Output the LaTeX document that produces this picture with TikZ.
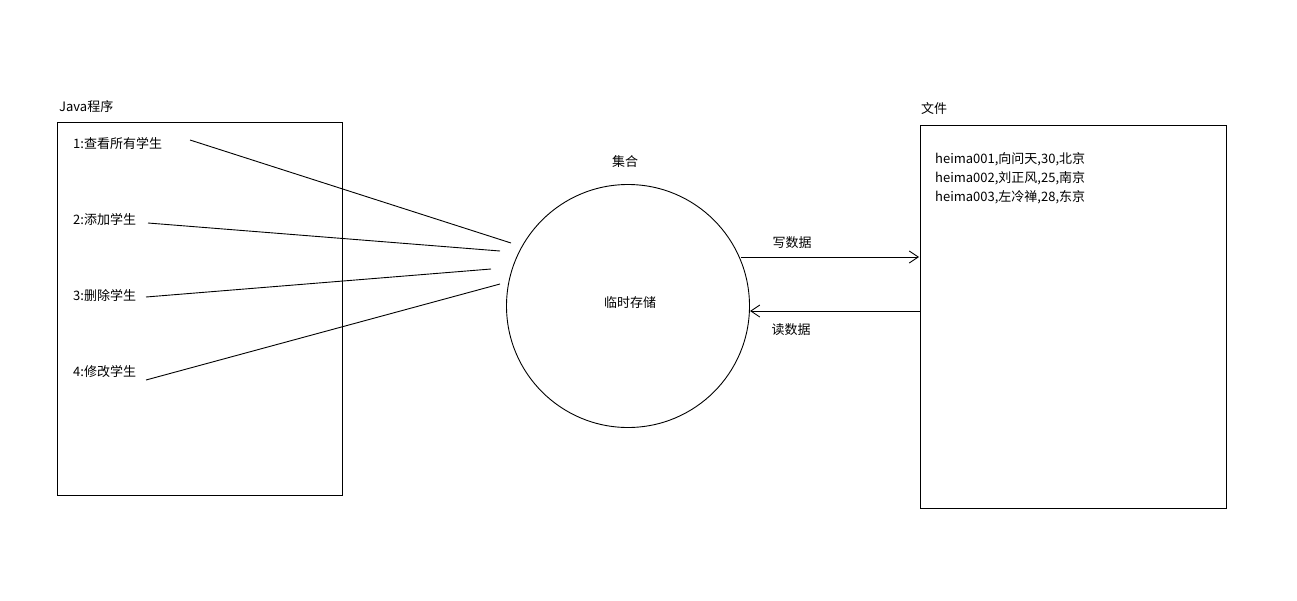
\documentclass[tikz,border=0pt]{standalone}
\usepackage{fontspec}
\setmainfont{Noto Sans CJK SC}
\usetikzlibrary{arrows.meta}
\begin{document}
\begin{tikzpicture}[x=1pt,y=-1pt,
  lbl/.style={inner sep=0pt,font=\fontsize{13}{15}\selectfont},
  box/.style={draw,line width=0.9pt},
  link/.style={line width=0.9pt},
  flow/.style={line width=0.9pt,-{Straight Barb[length=9pt,width=12pt,line width=0.9pt]}}]
  \useasboundingbox (0,0) rectangle (1297,600);
  \fill[white] (0,0) rectangle (1297,600);

  % Java program side
  \node[box,minimum width=285pt,minimum height=373pt,inner sep=0pt,anchor=north west] (prog) at (57,122) {};
  \node[lbl,anchor=west] (progt) at (59,107) {Java程序};
  \node[lbl,anchor=west] (m1) at (73,144) {1:查看所有学生};
  \node[lbl,anchor=west] (m2) at (73,220) {2:添加学生};
  \node[lbl,anchor=west] (m3) at (73,296) {3:删除学生};
  \node[lbl,anchor=west] (m4) at (73,372) {4:修改学生};

  % collection in memory
  \node[draw,circle,line width=0.9pt,minimum size=243pt,inner sep=0pt] (set) at (628,306) {};
  \node[lbl] (sett) at (625,162) {集合};
  \node[lbl] (tmp) at (630,303) {临时存储};

  % the menu entries all lead into the collection
  \coordinate (e1a) at (190,140); \coordinate (e1b) at (511,243);
  \coordinate (e2a) at (148,223); \coordinate (e2b) at (500,251);
  \coordinate (e3a) at (146,297); \coordinate (e3b) at (491,269);
  \coordinate (e4a) at (146,380); \coordinate (e4b) at (500,284);
  \draw[link] (e1a) -- (e1b);
  \draw[link] (e2a) -- (e2b);
  \draw[link] (e3a) -- (e3b);
  \draw[link] (e4a) -- (e4b);

  % file side
  \node[box,minimum width=306pt,minimum height=383pt,inner sep=0pt,anchor=north west] (file) at (920,125) {};
  \node[lbl,anchor=west] (filet) at (921,109) {文件};
  \node[lbl,anchor=north west,align=left,font=\fontsize{13}{19}\selectfont] (rows) at (935,152)
    {heima001,向问天,30,北京\\heima002,刘正风,25,南京\\heima003,左冷禅,28,东京};

  % write / read
  \coordinate (w0) at (741,257); \coordinate (w1) at (919,257);
  \coordinate (r0) at (920,311); \coordinate (r1) at (750,311);
  \draw[flow] (w0) -- (w1);
  \draw[flow] (r0) -- (r1);
  \node[lbl] (wt) at (792,243) {写数据};
  \node[lbl] (rt) at (791,330) {读数据};
\end{tikzpicture}
\end{document}
